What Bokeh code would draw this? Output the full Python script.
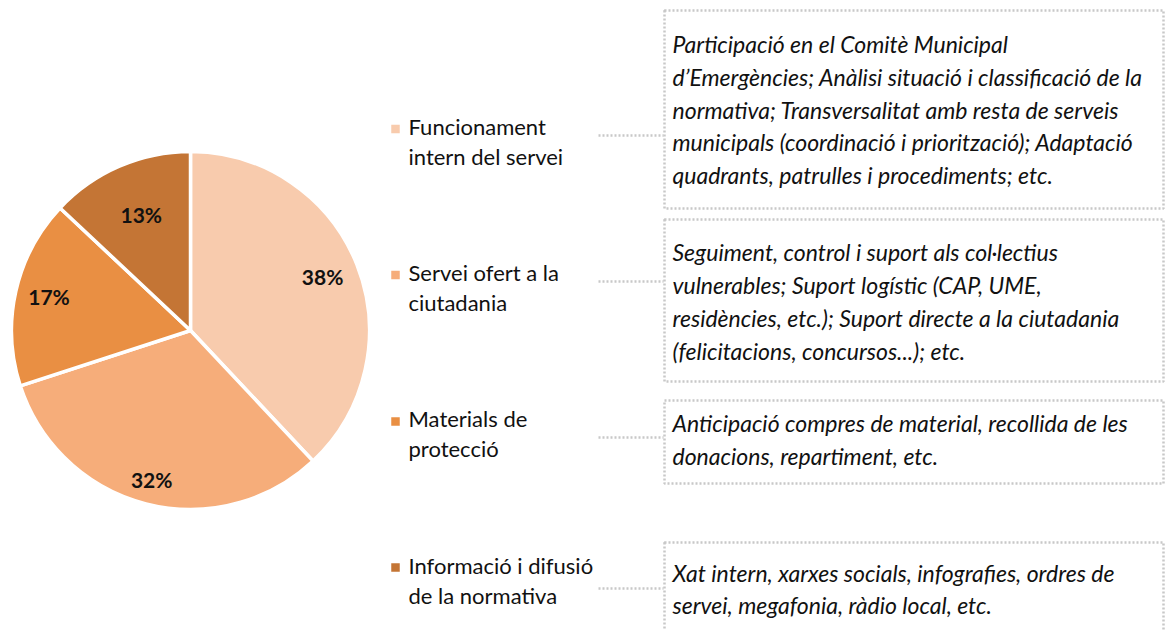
import numpy as np
from bokeh.plotting import figure
from bokeh.models import Range1d, ColumnDataSource
from bokeh.core.properties import value
from bokeh.embed import file_html
from bokeh.resources import INLINE

# ---------------- data ----------------
categories = ["Funcionament\nintern del servei",
              "Servei ofert a la\nciutadania",
              "Materials de\nprotecció",
              "Informació i difusió\nde la normativa"]
shares = [38, 32, 17, 13]
share_labels = ["38%", "32%", "17%", "13%"]
colors = ["#F8CBAD", "#F6AD7A", "#E98F43", "#C47535"]
descriptions = [
    ["Participació en el Comitè Municipal",
     "d\u2019Emergències; Anàlisi situació i classificació de la",
     "normativa; Transversalitat amb resta de serveis",
     "municipals (coordinació i priorització); Adaptació",
     "quadrants, patrulles i procediments; etc."],
    ["Seguiment, control i suport als col·lectius",
     "vulnerables; Suport logístic (CAP, UME,",
     "residències, etc.); Suport directe a la ciutadania",
     "(felicitacions, concursos...); etc."],
    ["Anticipació compres de material, recollida de les",
     "donacions, repartiment, etc."],
    ["Xat intern, xarxes socials, infografies, ordres de",
     "servei, megafonia, ràdio local, etc."],
]

# ---------------- layout (pixel coords, y down) ----------------
W, H = 1166, 630
def Y(py):
    return H - py

FONT = "Lato"
cx, cy, R = 190, 330, 179
label_rfrac = [0.794, 0.872, 0.81, 0.693]
label_dy = -2

legend_y = [126, 272, 418, 565]   # first-line centre
legend_line = 29.5
legend_sq_x, legend_text_x = 395, 408
legend_sq_y = [128.5, 274.5, 421, 567]
conn_y = [135, 281, 437, 588]
conn_x0, conn_x1 = 598, 663
boxes = [(664, 1163, 10, 208), (664, 1163, 219, 381),
         (664, 1163, 400, 483), (664, 1163, 542, 650)]
desc_y0 = [43.5, 251, 422, 572]
desc_line = [32.8, 33.3, 33, 32]
desc_x = 672

p = figure(width=W, height=H, x_range=Range1d(0, W), y_range=Range1d(0, H),
           output_backend="svg", toolbar_location=None, min_border=0,
           x_axis_type=None, y_axis_type=None)
p.grid.visible = False
p.outline_line_color = None
p.background_fill_color = "white"
p.border_fill_color = "white"

# ---- pie ----
frac = np.array(shares, dtype=float) / sum(shares)
cum = np.concatenate([[0], np.cumsum(frac)])
start = np.pi / 2 - 2 * np.pi * cum[:-1]
end = np.pi / 2 - 2 * np.pi * cum[1:]
src = ColumnDataSource(dict(start=start, end=end, color=colors))
p.wedge(x=cx, y=Y(cy), radius=R, start_angle="start", end_angle="end",
        direction="clock", fill_color="color", line_color="white", line_width=3.5, source=src)

mid = (start + end) / 2
lx = cx + np.array(label_rfrac) * R * np.cos(mid)
ly = Y(cy) + np.array(label_rfrac) * R * np.sin(mid) - label_dy
p.text(x=lx, y=ly, text=share_labels, text_font=value(FONT), text_font_style="bold",
       text_font_size="21px", text_align="center", text_baseline="middle", text_color="#111111")

# ---- legend ----
p.scatter(x=[legend_sq_x] * 4, y=[Y(v) for v in legend_sq_y], marker="square", size=8.5,
          fill_color=colors, line_color=None)
tx, ty, tt = [], [], []
for cat, y0 in zip(categories, legend_y):
    for i, line in enumerate(cat.split("\n")):
        tx.append(legend_text_x); ty.append(Y(y0 + i * legend_line)); tt.append(line)
p.text(x=tx, y=ty, text=tt, text_font=value(FONT), text_font_size="22px",
       text_align="left", text_baseline="middle", text_color="#111111")

# ---- connectors ----
p.segment(x0=[conn_x0] * 4, x1=[conn_x1] * 4, y0=[Y(v) for v in conn_y], y1=[Y(v) for v in conn_y],
          line_color="#C8C8C8", line_width=2.5, line_dash="2 2")

# ---- boxes ----
p.quad(left=[b[0] for b in boxes], right=[b[1] for b in boxes],
       top=[Y(b[2]) for b in boxes], bottom=[Y(b[3]) for b in boxes],
       fill_color=None, line_color="#C8C8C8", line_width=2.5, line_dash="2 2")

dx, dy, dt = [], [], []
for lines, y0, lh in zip(descriptions, desc_y0, desc_line):
    for i, line in enumerate(lines):
        dx.append(desc_x); dy.append(Y(y0 + i * lh)); dt.append(line)
p.text(x=dx, y=dy, text=dt, text_font=value(FONT), text_font_style="italic",
       text_font_size="23px", text_align="left", text_baseline="middle", text_color="#111111")

open("out.html", "w").write(file_html(p, INLINE))
